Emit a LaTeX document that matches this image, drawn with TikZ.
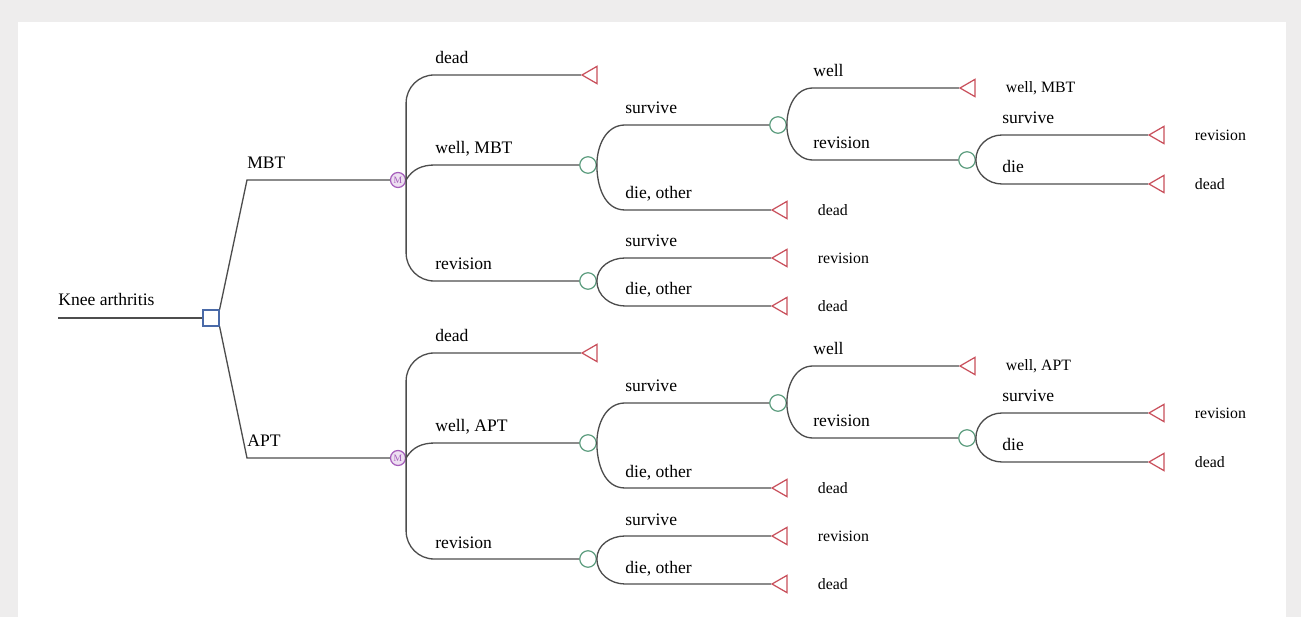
\documentclass[tikz,border=0pt]{standalone}
\usepackage{fontspec}
\setmainfont{Liberation Serif}
\usepackage{tikz}
\usetikzlibrary{positioning, shapes.geometric}
\usepackage{xcolor}
\definecolor{bggrey}{HTML}{EEEDED}
\definecolor{lineg}{HTML}{4D4D4D}
\definecolor{chgreen}{HTML}{5E9E80}
\definecolor{termred}{HTML}{C9505C}
\definecolor{decblue}{HTML}{4A6AA8}
\definecolor{mkpurple}{HTML}{A55DBB}
\tikzset{
  branch/.style={draw=lineg, line width=0.75pt},
  decision/.style={draw=decblue, rectangle, minimum size=0.32cm, inner sep=0pt, line width=0.7pt},
  chance/.style={draw=chgreen, circle, minimum size=0.33cm, inner sep=0pt, line width=0.7pt},
  markov/.style={draw=mkpurple, fill=mkpurple!20, circle, minimum size=0.3cm, inner sep=0pt, line width=0.7pt, text=mkpurple, font=\fontsize{5.5}{5.5}\selectfont},
  terminal/.style={draw=termred, regular polygon, regular polygon sides=3, shape border rotate=90, minimum size=0.4cm, inner sep=0pt, line width=0.7pt},
  lbl/.style={anchor=base west, inner sep=0pt, yshift=0.22cm, font=\fontsize{10}{12}\selectfont},
  endlbl/.style={anchor=west, inner sep=0pt, font=\fontsize{9}{11}\selectfont},
}

\begin{document}
\begin{tikzpicture}[x=0.02cm, y=-0.02cm]
  \fill[bggrey] (0,0) rectangle (1301,617);
  \fill[white] (18,22) rectangle (1286,617);
  % x of the branch starts, one for each level
  \coordinate (x1) at (435,0);
  \coordinate (x2) at (625,0);
  \coordinate (x3) at (813,0);
  \coordinate (x4) at (1002,0);

  \coordinate (root) at (58,318);
  \node[decision] (D) at (211,318) {};
  \draw[branch] (root) -- (D);
  \node[lbl, yshift=0.02cm] (lRoot) at (root) {Knee arthritis};

  \foreach \arm/\dy/\corner in {MBT/0/north east, APT/278/south east} {
    \coordinate (b\arm) at (247,180+\dy);
    \node[markov] (M\arm) at (398,180+\dy) {M};
    \node[chance] (CW\arm) at (588,165+\dy) {};
    \node[chance] (CR\arm) at (588,281+\dy) {};
    \node[chance] (CS\arm) at (778,125+\dy) {};
    \node[chance] (CV\arm) at (967,160+\dy) {};
    \node[terminal] (TD\arm) at (592,75+\dy) {};
    \node[terminal] (TWd\arm) at (782,210+\dy) {};
    \node[terminal] (TRs\arm) at (782,258+\dy) {};
    \node[terminal] (TRd\arm) at (782,306+\dy) {};
    \node[terminal] (TSw\arm) at (970,88+\dy) {};
    \node[terminal] (TVs\arm) at (1159,135+\dy) {};
    \node[terminal] (TVd\arm) at (1159,184+\dy) {};

    \draw[branch] (D.\corner) -- (b\arm) -- (M\arm);
    \draw[branch, rounded corners=0.56cm] (M\arm.east) |- (TD\arm);
    \draw[branch, rounded corners=0.56cm] (M\arm.east) |- (CR\arm);
    \draw[branch] (M\arm.east) to[out=60, in=180] (x1 |- CW\arm) -- (CW\arm);
    \draw[branch] (CW\arm.east) to[out=90, in=180] (x2 |- CS\arm) -- (CS\arm);
    \draw[branch] (CW\arm.east) to[out=-90, in=180] (x2 |- TWd\arm) -- (TWd\arm);
    \draw[branch] (CR\arm.east) to[out=90, in=180] (x2 |- TRs\arm) -- (TRs\arm);
    \draw[branch] (CR\arm.east) to[out=-90, in=180] (x2 |- TRd\arm) -- (TRd\arm);
    \draw[branch] (CS\arm.east) to[out=90, in=180] (x3 |- TSw\arm) -- (TSw\arm);
    \draw[branch] (CS\arm.east) to[out=-90, in=180] (x3 |- CV\arm) -- (CV\arm);
    \draw[branch] (CV\arm.east) to[out=90, in=180] (x4 |- TVs\arm) -- (TVs\arm);
    \draw[branch] (CV\arm.east) to[out=-90, in=180] (x4 |- TVd\arm) -- (TVd\arm);

    % branch labels
    \node[lbl] (l\arm) at (b\arm) {\arm};
    \node[lbl] (lD\arm) at (x1 |- TD\arm) {dead};
    \node[lbl] (lW\arm) at (x1 |- CW\arm) {well, \arm};
    \node[lbl] (lR\arm) at (x1 |- CR\arm) {revision};
    \node[lbl] (lWs\arm) at (x2 |- CS\arm) {survive};
    \node[lbl] (lWd\arm) at (x2 |- TWd\arm) {die, other};
    \node[lbl] (lRs\arm) at (x2 |- TRs\arm) {survive};
    \node[lbl] (lRd\arm) at (x2 |- TRd\arm) {die, other};
    \node[lbl] (lSw\arm) at (x3 |- TSw\arm) {well};
    \node[lbl] (lSr\arm) at (x3 |- CV\arm) {revision};
    \node[lbl] (lVs\arm) at (x4 |- TVs\arm) {survive};
    \node[lbl] (lVd\arm) at (x4 |- TVd\arm) {die};

    % outcomes
    \node[endlbl, right=0.6cm of TWd\arm] (eWd\arm) {dead};
    \node[endlbl, right=0.6cm of TRs\arm] (eRs\arm) {revision};
    \node[endlbl, right=0.6cm of TRd\arm] (eRd\arm) {dead};
    \node[endlbl, right=0.6cm of TSw\arm] (eSw\arm) {well, \arm};
    \node[endlbl, right=0.6cm of TVs\arm] (eVs\arm) {revision};
    \node[endlbl, right=0.6cm of TVd\arm] (eVd\arm) {dead};
  }
\end{tikzpicture}
\end{document}
